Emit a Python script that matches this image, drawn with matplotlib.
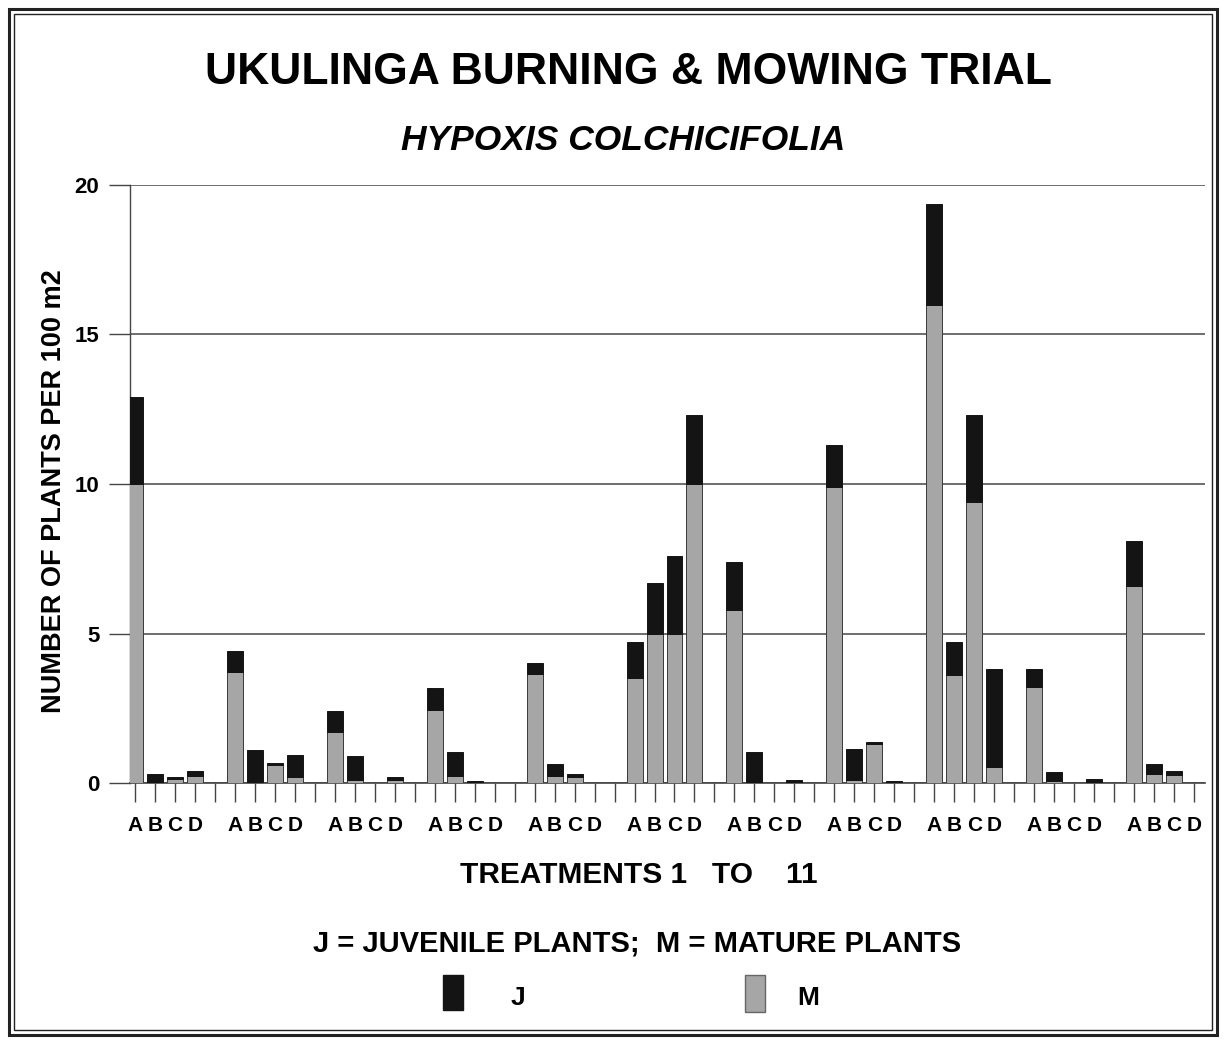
import numpy as np
import matplotlib
matplotlib.use("Agg")
import matplotlib.pyplot as plt
from matplotlib.patches import Rectangle

# Treatments 1..11, plots A-D within each treatment
treatments = list(range(1, 12))
plots = ["A", "B", "C", "D"]

# mature plants (M) per treatment, plots A,B,C,D
mature = [
    [10.0, 0.0, 0.15, 0.25],
    [3.7, 0.05, 0.6, 0.2],
    [1.7, 0.1, 0.0, 0.1],
    [2.45, 0.25, 0.05, 0.0],
    [3.65, 0.25, 0.2, 0.0],
    [3.5, 5.0, 5.0, 10.0],
    [5.8, 0.05, 0.0, 0.0],
    [9.9, 0.1, 1.3, 0.0],
    [16.0, 3.6, 9.4, 0.55],
    [3.2, 0.07, 0.0, 0.0],
    [6.6, 0.3, 0.28, 0.0],
]
# juvenile plants (J) per treatment, plots A,B,C,D
juvenile = [
    [2.9, 0.3, 0.05, 0.15],
    [0.7, 1.05, 0.07, 0.73],
    [0.7, 0.8, 0.0, 0.1],
    [0.72, 0.8, 0.02, 0.0],
    [0.35, 0.37, 0.1, 0.0],
    [1.2, 1.7, 2.6, 2.3],
    [1.6, 1.0, 0.0, 0.1],
    [1.4, 1.05, 0.08, 0.08],
    [3.35, 1.1, 2.9, 3.25],
    [0.6, 0.3, 0.0, 0.12],
    [1.5, 0.35, 0.12, 0.0],
]
y_ticks = [0, 5, 10, 15, 20]

M_COLOR = "#a6a6a6"
J_COLOR = "#141414"
W, H = 1224, 1040

fig = plt.figure(figsize=(W / 100, H / 100), dpi=100)
ax = fig.add_axes([130 / W, 1 - 783 / H, (1205 - 130) / W, (783 - 185) / H])

# one slot per plot, plus an empty slot between treatments
slot = 5
x = []
for g in range(len(treatments)):
    for k in range(len(plots)):
        x.append(g * slot + k)
m_vals = np.array(mature).ravel()
j_vals = np.array(juvenile).ravel()

ax.bar(x, m_vals, width=0.8, color=M_COLOR, edgecolor="#3a3a3a",
       linewidth=0.7, zorder=3)
ax.bar(x, j_vals, width=0.8, bottom=m_vals, color=J_COLOR,
       edgecolor=J_COLOR, linewidth=0.7, zorder=3)

fam = ["Liberation Sans", "DejaVu Sans"]

# a tick at every slot, gap slots included, labels only under the plots
all_slots = list(range(len(treatments) * slot - 1))
labels = [plots[s % slot] if s % slot < len(plots) else "" for s in all_slots]

ax.set_ylim(0, 20)
ax.set_xlim(-0.25, 53.55)
ax.set_yticks(y_ticks)
ax.set_yticklabels([str(v) for v in y_ticks], fontsize=16, fontweight="bold",
                   family=fam)
ax.set_xticks(all_slots)
ax.set_xticklabels(labels, fontsize=15, fontweight="bold", family=fam)
ax.tick_params(axis="y", length=15, width=1, color="#444", pad=7)
ax.tick_params(axis="x", length=14, width=1, color="#444", pad=10)

ax.grid(True, axis="y", color="#555", linewidth=1.2, zorder=1)
for side in ["top", "right"]:
    ax.spines[side].set_visible(False)
ax.spines["left"].set_color("#444")
ax.spines["bottom"].set_color("#444")
ax.spines["left"].set_linewidth(1.0)
ax.spines["bottom"].set_linewidth(1.2)

fig.text(628 / W, 1 - 72 / H, "UKULINGA BURNING & MOWING TRIAL",
         ha="center", va="center", fontsize=32, fontweight="bold", family=fam)
fig.text(623 / W, 1 - 140 / H, "HYPOXIS COLCHICIFOLIA", ha="center",
         va="center", fontsize=25.5, fontweight="bold", fontstyle="italic",
         family=fam)
fig.text(54 / W, 1 - 491 / H, "NUMBER OF PLANTS PER 100 m2", rotation=90,
         ha="center", va="center", fontsize=19.5, fontweight="bold",
         family=fam)
fig.text(639 / W, 1 - 875 / H, "TREATMENTS 1   TO    11", ha="center",
         va="center", fontsize=21.5, fontweight="bold", family=fam)
fig.text(637 / W, 1 - 943 / H, "J = JUVENILE PLANTS;  M = MATURE PLANTS",
         ha="center", va="center", fontsize=21, fontweight="bold",
         family=fam)

# legend keys
fig.add_artist(Rectangle((443 / W, 1 - 1010 / H), 20 / W, 35 / H,
                         transform=fig.transFigure, facecolor=J_COLOR,
                         edgecolor=J_COLOR))
fig.text(518 / W, 1 - 998 / H, "J", ha="center", va="center", fontsize=19,
         fontweight="bold", family=fam)
fig.add_artist(Rectangle((745 / W, 1 - 1012 / H), 20 / W, 37 / H,
                         transform=fig.transFigure, facecolor=M_COLOR,
                         edgecolor="#666"))
fig.text(808 / W, 1 - 998 / H, "M", ha="center", va="center", fontsize=19,
         fontweight="bold", family=fam)

# double frame round the whole chart
fig.add_artist(Rectangle((9 / W, 5 / H), 1208 / W, 1026 / H,
                         transform=fig.transFigure, fill=False,
                         edgecolor="#222", linewidth=2.2))
fig.add_artist(Rectangle((14 / W, 10 / H), 1198 / W, 1016 / H,
                         transform=fig.transFigure, fill=False,
                         edgecolor="#222", linewidth=1.0))

fig.savefig("out.png", dpi=100)
